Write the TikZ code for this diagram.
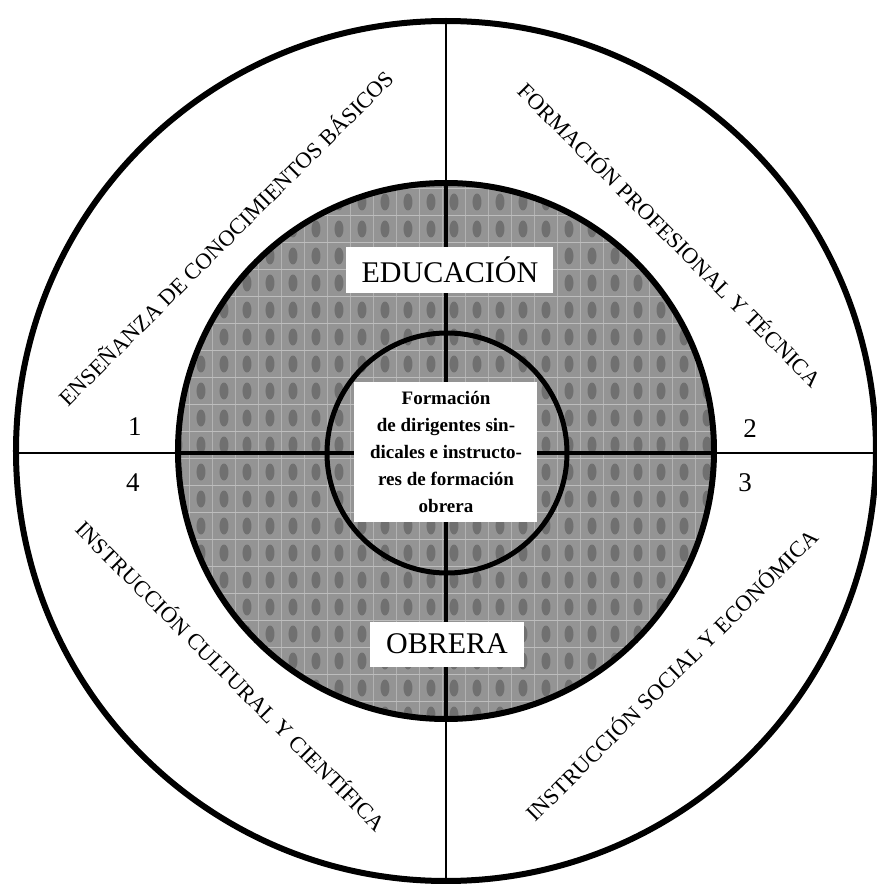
\documentclass[tikz,border=0pt]{standalone}
\usepackage{fontspec}
\setmainfont{Liberation Serif}
\usetikzlibrary{positioning}

\tikzset{
  ringlabel/.style={font=\fontsize{22.5}{22.5}\selectfont, inner sep=0pt},
  numlabel/.style={font=\fontsize{27}{27}\selectfont, inner sep=0pt},
  whitebox/.style={fill=white, inner sep=0pt, align=center}
}

\begin{document}
\begin{tikzpicture}[x=1pt, y=1pt]
  \useasboundingbox (-446,-433) rectangle (430,451);

  % shaded disc with halftone texture
  \fill[black!42] (0,0) circle (268);
  \begin{scope}
    \clip (0,0) circle (268);
    \foreach \i in {-12,...,12}
      \foreach \j in {-10,...,10}
        \fill[black!56] (\i*23+8, \j*27+6) ellipse (4.5 and 8.5);
    \foreach \i in {-12,...,12}
      \draw[black!30, line width=1.2pt] (\i*23+8+11.5,-270) -- (\i*23+8+11.5,270);
    \foreach \j in {-10,...,10}
      \draw[black!26, line width=1.6pt] (-270,\j*27+6+13.5) -- (270,\j*27+6+13.5);
  \end{scope}

  % cross
  \draw[line width=2.5pt] (0,430) -- (0,-430);
  \draw[line width=2.5pt] (-430,-2) -- (430,-2);
  \draw[line width=4pt] (0,268) -- (0,-268);
  \draw[line width=4pt] (-268,-2) -- (268,-2);

  % labels in the white boxes
  \node[whitebox, minimum width=207pt, minimum height=46pt,
        font=\fontsize{30}{30}\selectfont] (edu) at (4,181) {EDUCACIÓN};
  \node[whitebox, minimum width=154pt, minimum height=45pt,
        font=\fontsize{30}{30}\selectfont] (obr) at (1,-193) {OBRERA};
  \node[whitebox, minimum width=183pt, minimum height=140pt,
        font=\fontsize{19}{27}\selectfont\bfseries] (core) at (0,-1)
        {Formación\\de dirigentes sin-\\dicales e instructo-\\res de formación\\obrera};

  % circles
  \draw[line width=6pt] (0,0) circle (430);
  \draw[line width=6pt] (0,0) circle (268);
  \draw[line width=5pt] (1,-2) circle (120);

  % quarter labels
  \node[ringlabel, rotate=45] (lab1) at (-221,214) {ENSEÑANZA DE CONOCIMIENTOS BÁSICOS};
  \node[ringlabel, rotate=-45] (lab2) at (225,217) {FORMACIÓN PROFESIONAL Y TÉCNICA};
  \node[ringlabel, rotate=45] (lab3) at (225,-223) {INSTRUCCIÓN SOCIAL Y ECONÓMICA};
  \node[ringlabel, rotate=-45] (lab4) at (-214,-224) {INSTRUCCIÓN CULTURAL Y CIENTÍFICA};

  % numbers
  \node[numlabel] (n1) at (-311,24) {1};
  \node[numlabel] (n2) at (304,22) {2};
  \node[numlabel] (n3) at (299,-32) {3};
  \node[numlabel] (n4) at (-313,-32) {4};
\end{tikzpicture}
\end{document}
